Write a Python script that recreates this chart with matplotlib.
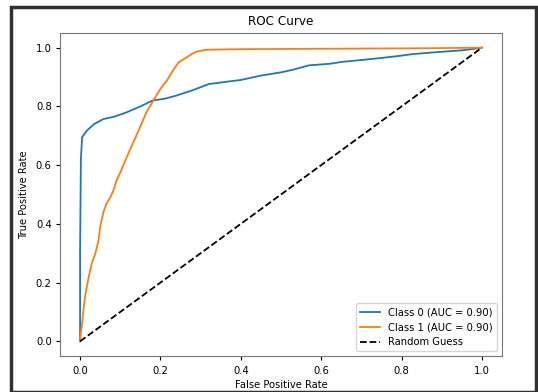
import matplotlib.pyplot as plt
from matplotlib.patches import Rectangle

# Values
fpr0 = [0.0, 0.0, 0.002, 0.005, 0.017, 0.035, 0.058, 0.085, 0.116, 0.15, 0.18,
        0.21, 0.24, 0.28, 0.32, 0.37, 0.40, 0.45, 0.50, 0.53, 0.57, 0.62, 0.654,
        0.70, 0.75, 0.80, 0.826, 0.88, 0.92, 0.95, 0.98, 1.0]
tpr0 = [0.0, 0.30, 0.62, 0.695, 0.718, 0.74, 0.757, 0.765, 0.78, 0.80, 0.82,
        0.826, 0.837, 0.855, 0.876, 0.885, 0.89, 0.905, 0.916, 0.925, 0.94, 0.945, 0.952,
        0.958, 0.965, 0.973, 0.978, 0.984, 0.988, 0.991, 0.996, 1.0]

fpr1 = [0.0, 0.002, 0.004, 0.008, 0.012, 0.02, 0.029, 0.038, 0.046, 0.05, 0.058,
        0.066, 0.075, 0.083, 0.091, 0.10, 0.116, 0.13, 0.149, 0.165, 0.187, 0.20,
        0.216, 0.23, 0.245, 0.265, 0.28, 0.29, 0.315, 0.40, 0.55, 0.70, 0.85, 1.0]
tpr1 = [0.0, 0.03, 0.049, 0.10, 0.15, 0.21, 0.265, 0.30, 0.344, 0.39, 0.44,
        0.47, 0.49, 0.514, 0.548, 0.575, 0.627, 0.67, 0.729, 0.78, 0.831, 0.86,
        0.888, 0.92, 0.95, 0.967, 0.98, 0.987, 0.993, 0.995, 0.996, 0.997, 0.998, 1.0]

auc0 = 0.90
auc1 = 0.90

plt.rcParams['font.size'] = 7.2
plt.rcParams['xtick.major.size'] = 3
plt.rcParams['ytick.major.size'] = 3
plt.rcParams['xtick.major.pad'] = 4
plt.rcParams['ytick.major.pad'] = 3

fig = plt.figure(figsize=(5.38, 3.92), dpi=100)
ax = fig.add_axes([0.1115, 0.0918, 0.8215, 0.824])

ax.plot(fpr0, tpr0, color='#1f77b4', lw=1.3, label=f'Class 0 (AUC = {auc0:.2f})')
ax.plot(fpr1, tpr1, color='#ff7f0e', lw=1.3, label=f'Class 1 (AUC = {auc1:.2f})')
ax.plot([0, 1], [0, 1], 'k--', lw=1.3, label='Random Guess')

ax.set_title('ROC Curve', pad=6)
ax.set_xlabel('False Positive Rate', labelpad=3)
ax.set_ylabel('True Positive Rate', labelpad=5)
ax.legend(loc='lower right')
for s in ax.spines.values():
    s.set_color('#777777')

# dark screenshot frame around the figure
fig.patches.append(Rectangle((11 / 538, 0.5 / 392), 525 / 538, 385 / 392,
                             transform=fig.transFigure, fill=False,
                             edgecolor='#303030', lw=2.5))

fig.savefig('out.png', dpi=100)
